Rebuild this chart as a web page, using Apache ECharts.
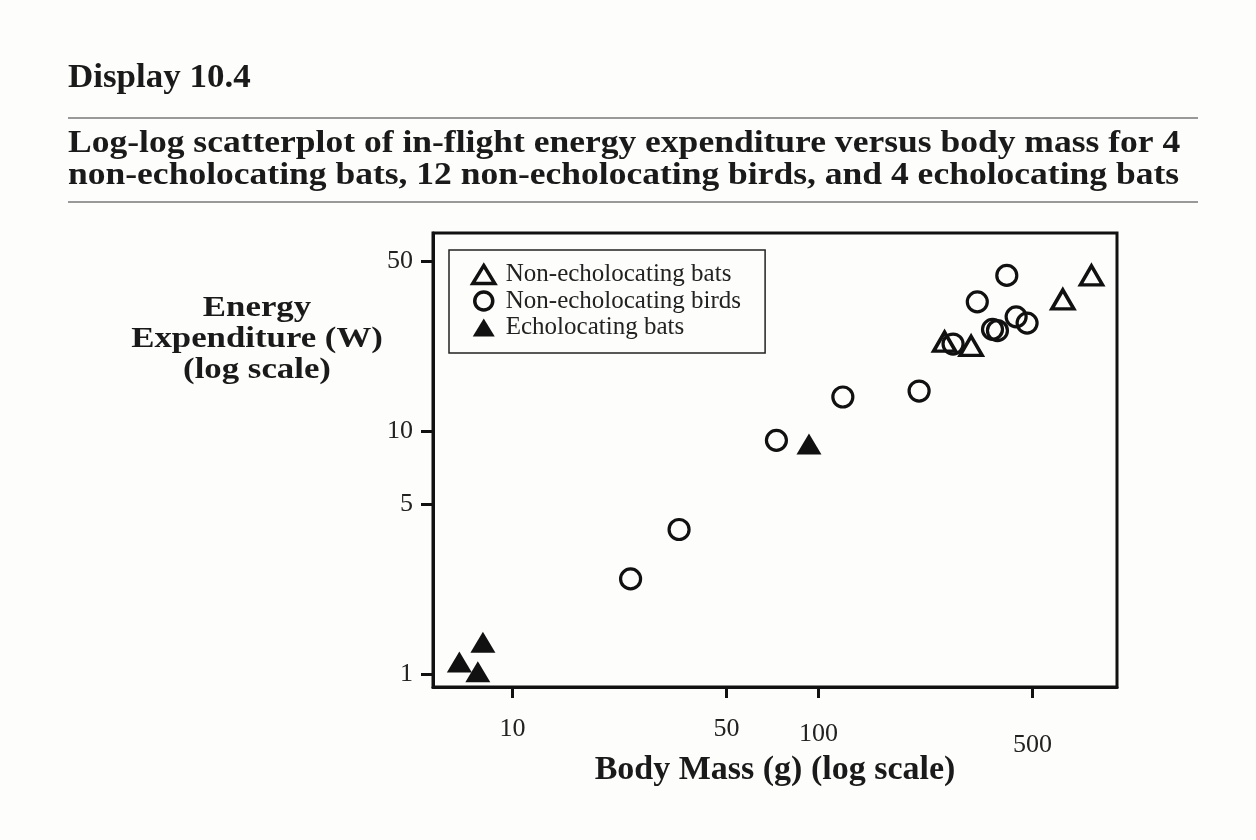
<!DOCTYPE html>
<html>
<head>
<meta charset="utf-8">
<script src="https://cdn.jsdelivr.net/npm/echarts@6/dist/echarts.min.js"></script>
<style>
  html, body { margin: 0; padding: 0; background: #fdfdfb; }
  #chart { width: 1256px; height: 840px; }
</style>
</head>
<body>
<div id="chart"></div>
<script>
// data (grams, watts)
var batsNEMass = [779, 628, 258, 315];
var batsNEEnergy = [43.7, 34.8, 23.3, 22.4];
var birdsMass = [24.3, 35, 72.8, 120, 213, 275, 370, 384, 442, 412, 330, 480];
var birdsEnergy = [2.46, 3.93, 9.15, 13.8, 14.6, 22.8, 26.2, 25.9, 29.5, 43.7, 34.0, 27.8];
var batsEMass = [93, 8, 6.7, 7.7];
var batsEEnergy = [8.83, 1.35, 1.12, 1.02];
var xTicks = [10, 50, 100, 500];
var yTicks = [1, 5, 10, 50];

var serif = '"Liberation Serif", "DejaVu Serif", serif';
var ink = '#1a1a1a';

function toLog(xs, ys) {
    return xs.map(function (x, i) { return [Math.log10(x), Math.log10(ys[i])]; });
}

// headings are a bit wider than the plain font, so stretch them
function heading(text, x, y, size, sx, align) {
    return {
        type: 'text', x: x, y: y, scaleX: sx,
        style: { text: text, fill: ink, align: align || 'left', verticalAlign: 'middle',
                 font: 'bold ' + size + 'px ' + serif }
    };
}

var option = {
    backgroundColor: '#fdfdfb',
    animation: false,
    graphic: [
        heading('Display 10.4', 68, 78, 33, 1.06),
        { type: 'line', shape: { x1: 68, y1: 118, x2: 1198, y2: 118 }, style: { stroke: '#999', lineWidth: 2 } },
        heading('Log-log scatterplot of in-flight energy expenditure versus body mass for 4', 68, 144, 32, 1.11),
        heading('non-echolocating bats, 12 non-echolocating birds, and 4 echolocating bats', 68, 176, 32, 1.11),
        { type: 'line', shape: { x1: 68, y1: 202, x2: 1198, y2: 202 }, style: { stroke: '#999', lineWidth: 2 } },
        heading('Energy', 257, 309, 29, 1.2, 'center'),
        heading('Expenditure (W)', 257, 340, 29, 1.2, 'center'),
        heading('(log scale)', 257, 371, 29, 1.2, 'center')
    ],
    legend: {
        orient: 'vertical',
        left: 449, top: 250,
        padding: [12, 24, 13, 22],
        itemGap: 1.5,
        itemWidth: 22, itemHeight: 18,
        borderColor: '#222', borderWidth: 1.5,
        itemStyle: { borderWidth: 3.5 },
        textStyle: { fontFamily: serif, fontSize: 25, color: '#222', padding: [0, 0, 0, 6] },
        data: ['Non-echolocating bats', 'Non-echolocating birds', 'Echolocating bats']
    },
    grid: {
        left: 433, right: 139, top: 233, bottom: 153,
        show: true, borderColor: '#111', borderWidth: 3, backgroundColor: 'transparent'
    },
    xAxis: {
        type: 'value',
        min: 0.74, max: 2.975,
        name: 'Body Mass (g) (log scale)',
        nameLocation: 'middle', nameGap: 66, nameMoveOverlap: false,
        nameTextStyle: { fontFamily: serif, fontWeight: 'bold', fontSize: 34, color: ink },
        axisLine: { show: true, onZero: false, lineStyle: { color: '#111', width: 3 } },
        axisTick: { show: true, length: 11, lineStyle: { color: '#111', width: 3 },
                    customValues: xTicks.map(Math.log10) },
        axisLabel: {
            margin: 29,
            customValues: xTicks.map(Math.log10),
            fontFamily: serif, fontSize: 26, color: '#222',
            formatter: function (v) {
                var n = Math.round(Math.pow(10, v));
                var k = xTicks.indexOf(n);
                return '{s' + k + '|' + n + '}';
            },
            rich: {
                s0: { fontFamily: serif, fontSize: 26, color: '#222', padding: [0, 0, 0, 0] },
                s1: { fontFamily: serif, fontSize: 26, color: '#222', padding: [0, 0, 0, 0] },
                s2: { fontFamily: serif, fontSize: 26, color: '#222', padding: [5, 0, 0, 0] },
                s3: { fontFamily: serif, fontSize: 26, color: '#222', padding: [16, 0, 0, 0] }
            }
        },
        splitLine: { show: false }
    },
    yAxis: {
        type: 'value',
        min: -0.054, max: 1.815,
        axisLine: { show: true, onZero: false, lineStyle: { color: '#111', width: 3 } },
        axisTick: { show: true, length: 12, lineStyle: { color: '#111', width: 3 },
                    customValues: yTicks.map(Math.log10) },
        axisLabel: {
            margin: 20,
            customValues: yTicks.map(Math.log10),
            fontFamily: serif, fontSize: 26, color: '#222',
            formatter: function (v) { return String(Math.round(Math.pow(10, v))); }
        },
        splitLine: { show: false }
    },
    series: [
        {
            name: 'Non-echolocating bats',
            type: 'scatter',
            symbol: 'triangle', symbolSize: [22, 19],
            itemStyle: { color: 'rgba(0,0,0,0)', borderColor: '#111', borderWidth: 3.5, opacity: 1 },
            data: toLog(batsNEMass, batsNEEnergy)
        },
        {
            name: 'Non-echolocating birds',
            type: 'scatter',
            symbol: 'circle', symbolSize: 20,
            itemStyle: { color: 'rgba(0,0,0,0)', borderColor: '#111', borderWidth: 3.2, opacity: 1 },
            data: toLog(birdsMass, birdsEnergy)
        },
        {
            name: 'Echolocating bats',
            type: 'scatter',
            symbol: 'triangle', symbolSize: [25, 21],
            itemStyle: { color: '#111', opacity: 1 },
            data: toLog(batsEMass, batsEEnergy)
        }
    ]
};

var myChart = echarts.init(document.getElementById('chart'));
myChart.setOption(option);
</script>
</body>
</html>
